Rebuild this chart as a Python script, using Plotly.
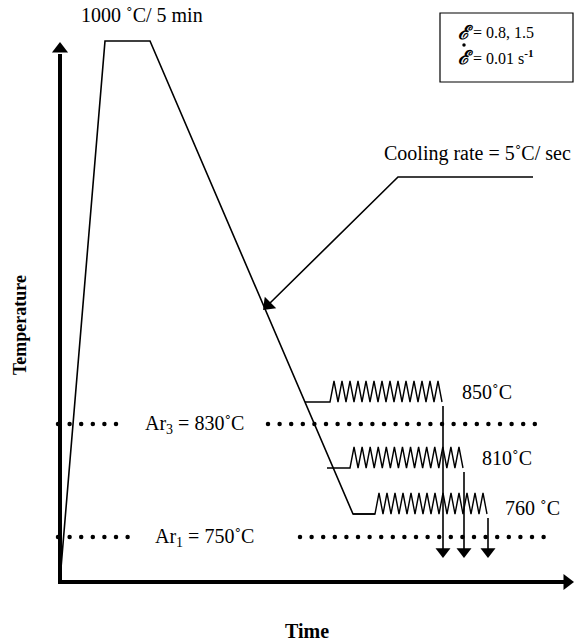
import numpy as np
import plotly.graph_objects as go

W, H = 574, 641
FONT = "Liberation Serif"

# Schematic coordinates: time (x) and temperature (y) in diagram units
axis_origin = (60, 59)
axis_top = 599
axis_right = 574

# thermal profile: heating, soaking at 1000 C, cooling at 5 C/s to 760 C hold
profile_time = [60, 105, 150, 353, 375]
profile_temp = [61, 600, 600, 127, 127]

# deformation holds (start of hold, start of zigzag, end of zigzag, temperature, label)
hold_start = [305, 327, 353]
zig_start = [330, 350, 375]
zig_end = [442, 463, 487]
hold_temp = [239, 173, 127]
hold_labels = ["850˚C", "810˚C", "760 ˚C"]
label_x = [460, 480, 503]
label_temp = [249, 183, 133]
n_peaks = 14
zig_amp = 21
quench_end = 90

# critical temperatures (dotted lines)
crit_temp = [217, 104]
crit_labels = ["Ar<sub>3</sub> = 830˚C", "Ar<sub>1</sub> = 750˚C"]
crit_label_x = [143, 153]
crit_left_end = [118, 130]
crit_right_start = [268, 300]
crit_right_end = 546
dot_gap = 11.6

# cooling-rate leader: elbow, end of horizontal, arrow tip
leader_x = [533, 398, 268]
leader_y = [464, 464, 336]

fig = go.Figure()
black = "black"

# main profile
fig.add_trace(go.Scatter(x=profile_time, y=profile_temp, mode="lines",
                         line=dict(color=black, width=1.6), hoverinfo="skip"))

# holds with zigzag deformation and quench arrows
for hs, zs, ze, t in zip(hold_start, zig_start, zig_end, hold_temp):
    xs = [hs, zs]
    ys = [t, t]
    step = (ze - zs) / n_peaks
    for k in range(n_peaks):
        xs += [zs + step * (k + 0.5), zs + step * (k + 1)]
        ys += [t + zig_amp, t]
    fig.add_trace(go.Scatter(x=xs, y=ys, mode="lines",
                             line=dict(color=black, width=1.4), hoverinfo="skip"))
    fig.add_trace(go.Scatter(x=[ze + 1, ze + 1], y=[t - 4, quench_end], mode="lines",
                             line=dict(color=black, width=1.6), hoverinfo="skip"))
    fig.add_trace(go.Scatter(x=[ze + 1], y=[quench_end - 0.5], mode="markers",
                             marker=dict(symbol="triangle-down", size=13, color=black),
                             hoverinfo="skip"))

# dotted critical temperature lines
for t, le, rs in zip(crit_temp, crit_left_end, crit_right_start):
    xl = np.arange(58, le + 0.1, dot_gap)
    xr = np.arange(rs, crit_right_end + 0.1, dot_gap)
    xx = np.concatenate([xl, xr])
    fig.add_trace(go.Scatter(x=xx, y=[t] * len(xx), mode="markers",
                             marker=dict(symbol="circle", size=4.5, color=black),
                             hoverinfo="skip"))

# axes with arrows
ox, oy = axis_origin
fig.add_trace(go.Scatter(x=[ox, ox, axis_right - 10], y=[axis_top - 12, oy, oy], mode="lines",
                         line=dict(color=black, width=4), hoverinfo="skip"))
fig.add_trace(go.Scatter(x=[ox], y=[axis_top - 7], mode="markers",
                         marker=dict(symbol="triangle-up", size=14, color=black), hoverinfo="skip"))
fig.add_trace(go.Scatter(x=[axis_right - 7], y=[oy], mode="markers",
                         marker=dict(symbol="triangle-right", size=14, color=black), hoverinfo="skip"))

# cooling rate leader with arrowhead
fig.add_trace(go.Scatter(x=leader_x, y=leader_y, mode="lines",
                         line=dict(color=black, width=1.6), hoverinfo="skip"))
fig.add_trace(go.Scatter(x=[leader_x[-1]], y=[leader_y[-1]], mode="markers",
                         marker=dict(symbol="triangle-up", size=14, angle=225, color=black),
                         hoverinfo="skip"))

def txt(x, y, s, size=20, xanchor="left", family=FONT, **kw):
    fig.add_annotation(x=x, y=y, text=s, showarrow=False, xanchor=xanchor, yanchor="middle",
                       font=dict(family=family, size=size, color=black), **kw)

txt(142, 626, "1000 ˚C/ 5 min", xanchor="center")
txt(477, 488, "Cooling rate = 5˚C/ sec", xanchor="center")
for lx, lt, s in zip(label_x, label_temp, hold_labels):
    txt(lx, lt, s)
for lx, t, s in zip(crit_label_x, crit_temp, crit_labels):
    txt(lx, t, s)
txt(20, 316, "<b>Temperature</b>", size=18, xanchor="center", textangle=-90)
txt(307, 10, "<b>Time</b>", size=20, xanchor="center")

# strain box
fig.add_shape(type="rect", x0=440, x1=573, y0=559, y1=628, xref="x", yref="y",
              line=dict(color=black, width=1.2))
txt(456, 609, "<b><i>ℰ</i></b>", size=19, family="DejaVu Serif")
txt(456, 584, "<b><i>ℰ</i></b>", size=19, family="DejaVu Serif")
fig.add_trace(go.Scatter(x=[464], y=[596], mode="markers",
                         marker=dict(symbol="circle", size=3.5, color=black), hoverinfo="skip"))
txt(471, 609, "= 0.8, 1.5", size=16)
txt(471, 584, "= 0.01 s<sup><b>-1</b></sup>", size=16)

fig.update_layout(width=W, height=H, margin=dict(l=0, r=0, t=0, b=0),
                  paper_bgcolor="white", plot_bgcolor="white", showlegend=False,
                  xaxis=dict(range=[0, W], visible=False, fixedrange=True),
                  yaxis=dict(range=[0, H], visible=False, fixedrange=True))
fig.write_html("out.html", config={"displayModeBar": False, "staticPlot": True},
               post_script="document.body.style.margin='0';document.body.style.overflow='hidden';")
